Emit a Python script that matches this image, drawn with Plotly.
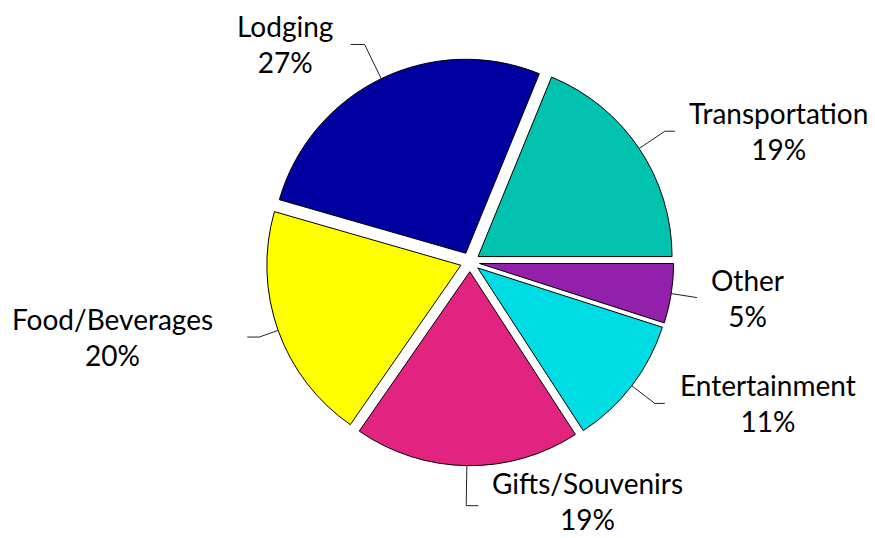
import numpy as np
import plotly.graph_objects as go

# Spending breakdown (percent of total), listed counterclockwise from 3 o'clock
categories = ["Transportation", "Lodging", "Food/Beverages",
              "Gifts/Souvenirs", "Entertainment", "Other"]
shares = [19, 27, 20, 19, 11, 5]
colors = ["#00C2AF", "#0000A0", "#FFFF00", "#E2237F", "#00DCE3", "#9220AA"]

# Label placement: leader radial length, elbow length, side, gap to text,
# and a small vertical nudge for the text block
leader_len = [31, 38, 20, 40, 29, 26]
elbow_len = [10, 14, 12, 12, 10, 0]
sides = [1, -1, -1, 1, 1, 1]
gaps = [12, 16, 32, 12, 13, 12]
text_shift = [0, 0, 0, 5, 0, 0]

W, H = 875, 538
cx, cy = 470.0, 262.0      # pie centre in pixels
radius = 194.0             # pie radius in pixels
pull = 0.05

half = radius * (1 + pull)
dom_x = [(cx - half) / W, (cx + half) / W]
dom_y = [1 - (cy + half) / H, 1 - (cy - half) / H]

# slices are fed in reverse and drawn clockwise from 3 o'clock, which
# lays them out counterclockwise in the listed order
fig = go.Figure(go.Pie(
    labels=categories[::-1],
    values=shares[::-1],
    sort=False,
    direction="clockwise",
    rotation=90,
    pull=[pull] * len(shares),
    marker=dict(colors=colors[::-1], line=dict(color="black", width=1)),
    textinfo="none",
    hoverinfo="label+percent",
    showlegend=False,
    domain=dict(x=dom_x, y=dom_y),
))


def to_paper(x, y):
    return x / W, 1 - y / H


# leader lines and labels computed from each slice's mid angle
total = float(sum(shares))
cum = np.cumsum([0] + shares)
shapes, annotations = [], []
for i, name in enumerate(categories):
    mid = np.deg2rad((cum[i] + shares[i] / 2) / total * 360.0)
    dx, dy = np.cos(mid), -np.sin(mid)
    r0 = half
    p0 = (cx + r0 * dx, cy + r0 * dy)
    p1 = (cx + (r0 + leader_len[i]) * dx, cy + (r0 + leader_len[i]) * dy)
    p2 = (p1[0] + sides[i] * elbow_len[i], p1[1])
    path_pts = [to_paper(*p) for p in (p0, p1, p2)]
    path = "M " + " L ".join(f"{x:.5f},{y:.5f}" for x, y in path_pts)
    shapes.append(dict(type="path", xref="paper", yref="paper", path=path,
                       line=dict(color="#222222", width=1)))
    ax, ay = to_paper(p2[0] + sides[i] * gaps[i], p2[1])
    annotations.append(dict(
        x=ax, y=ay, xref="paper", yref="paper",
        text=f"{name}<br>{shares[i]}%",
        showarrow=False, align="center",
        xanchor="left" if sides[i] > 0 else "right", yanchor="middle",
        yshift=text_shift[i],
        font=dict(family="Lato", size=28, color="black"),
    ))

fig.update_layout(
    width=W, height=H,
    margin=dict(l=0, r=0, t=0, b=0),
    paper_bgcolor="white",
    plot_bgcolor="white",
    shapes=shapes,
    annotations=annotations,
)

fig.write_html("out.html")
